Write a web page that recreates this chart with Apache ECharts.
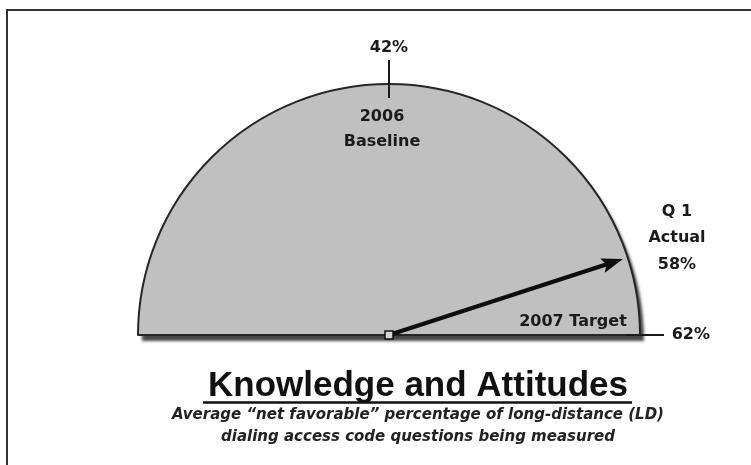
<!DOCTYPE html>
<html>
<head>
<meta charset="utf-8">
<script src="https://cdn.jsdelivr.net/npm/echarts@6/dist/echarts.min.js"></script>
<style>
  html, body { margin: 0; padding: 0; background: #ffffff; }
  #chart { width: 751px; height: 465px; }
</style>
</head>
<body>
<div id="chart"></div>
<script>
// Dial scale: left end, top (2006 baseline) and right end (2007 target)
const scaleMin = 22;
const baselineValue = 42;
const targetValue = 62;
// Needle reading
const actualValue = 58;
const actualName = 'Q 1\nActual';
// Marker captions
const baselineCaption = '2006\nBaseline';
const targetCaption = '2007 Target';
const chartTitle = 'Knowledge and Attitudes';
const chartSubtitle = 'Average \u201cnet favorable\u201d percentage of long-distance (LD)\ndialing access code questions being measured';

const CX = 389, CY = 335, R = 251;
const labelFont = 'DejaVu Sans';

const chart = echarts.init(document.getElementById('chart'), null, { renderer: 'canvas' });

// half-disc face: one visible half, one empty half
function faceData(style) {
  return [
    { value: 1, itemStyle: style },
    { value: 1, itemStyle: { color: 'rgba(0,0,0,0)', borderWidth: 0, shadowBlur: 0, shadowOffsetX: 0, shadowOffsetY: 0 } }
  ];
}
function faceSeries(style, z) {
  return {
    type: 'pie',
    silent: true,
    center: [CX, CY],
    radius: [0, R],
    startAngle: 180,
    clockwise: true,
    label: { show: false },
    labelLine: { show: false },
    emphasis: { disabled: true },
    z: z,
    data: faceData(style)
  };
}

const option = {
  backgroundColor: '#ffffff',
  animation: false,
  series: [
    // drop shadow under the dial face
    faceSeries({
      color: '#c0c0c0',
      borderWidth: 0,
      shadowColor: 'rgba(0,0,0,0.72)',
      shadowBlur: 3,
      shadowOffsetX: 4,
      shadowOffsetY: 6
    }, 1),
    // dial face with dark outline
    faceSeries({
      color: '#c0c0c0',
      borderColor: '#262626',
      borderWidth: 2
    }, 2),
    // Tick marks and labels for baseline and target
    {
      type: 'gauge',
      silent: true,
      center: [CX, CY],
      radius: R,
      startAngle: 90,
      endAngle: 0,
      min: baselineValue,
      max: targetValue,
      splitNumber: 1,
      z: 3,
      axisLine: { show: false, lineStyle: { width: 0 } },
      axisTick: { show: false },
      splitLine: {
        show: true,
        distance: -24,
        length: 38,
        lineStyle: { color: '#1a1a1a', width: 2 }
      },
      axisLabel: {
        show: true,
        distance: -84,
        formatter: function (v) {
          return v === baselineValue ? '{top|' + v + '%}' : '{side|' + v + '%}';
        },
        rich: {
          top: { lineHeight: 68, fontFamily: labelFont, fontWeight: 'bold', fontSize: 16, color: '#1a1a1a' },
          side: { lineHeight: 20, fontFamily: labelFont, fontWeight: 'bold', fontSize: 16, color: '#1a1a1a' }
        }
      },
      pointer: { show: false },
      anchor: { show: false },
      title: { show: false },
      detail: { show: false },
      data: [{ value: baselineValue }]
    },
    // Needle showing the actual reading
    {
      type: 'gauge',
      center: [CX, CY],
      radius: R,
      startAngle: 180,
      endAngle: 0,
      min: scaleMin,
      max: targetValue,
      z: 4,
      axisLine: { show: false, lineStyle: { width: 0 } },
      axisTick: { show: false },
      splitLine: { show: false },
      axisLabel: { show: false },
      pointer: {
        show: true,
        icon: 'path://M7,0 L14,22 L9,19 L9,252 L5,252 L5,19 L0,22 Z',
        length: 246,
        width: 15,
        offsetCenter: [0, 0],
        itemStyle: { color: '#0d0d0d' }
      },
      anchor: {
        show: true,
        showAbove: true,
        icon: 'rect',
        size: 8,
        itemStyle: { color: '#d6d6d6', borderColor: '#111', borderWidth: 1.5 }
      },
      title: {
        show: true,
        offsetCenter: [288, -110],
        fontFamily: labelFont,
        fontWeight: 'bold',
        fontSize: 16,
        lineHeight: 26,
        color: '#1a1a1a'
      },
      detail: {
        show: true,
        offsetCenter: [288, -70],
        formatter: '{value}%',
        fontFamily: labelFont,
        fontWeight: 'bold',
        fontSize: 16,
        color: '#1a1a1a',
        valueAnimation: false
      },
      data: [{ value: actualValue, name: actualName }]
    }
  ],
  graphic: [
    // page frame (top and left edges)
    {
      type: 'polyline',
      silent: true,
      shape: { points: [[7, 465], [7, 10], [751, 10]] },
      style: { stroke: '#333', lineWidth: 2, fill: null }
    },
    {
      type: 'text',
      silent: true,
      x: 382, y: 129.5,
      style: {
        text: baselineCaption,
        align: 'center', verticalAlign: 'middle',
        font: 'bold 16px "DejaVu Sans"',
        lineHeight: 25,
        fill: '#1a1a1a'
      },
      z: 5
    },
    {
      type: 'text',
      silent: true,
      x: 573, y: 322,
      style: {
        text: targetCaption,
        align: 'center', verticalAlign: 'middle',
        font: 'bold 16px "DejaVu Sans"',
        fill: '#1a1a1a'
      },
      z: 5
    },
    {
      type: 'text',
      silent: true,
      x: 418, y: 386,
      style: {
        text: chartTitle,
        align: 'center', verticalAlign: 'middle',
        font: 'bold 35px "Liberation Sans"',
        fill: '#111'
      }
    },
    {
      type: 'line',
      silent: true,
      shape: { x1: 203, y1: 402.5, x2: 632, y2: 402.5 },
      style: { stroke: '#111', lineWidth: 2.5 }
    },
    {
      type: 'text',
      silent: true,
      x: 418, y: 426,
      style: {
        text: chartSubtitle,
        align: 'center', verticalAlign: 'middle',
        font: 'italic bold 15px "DejaVu Sans"',
        lineHeight: 22,
        fill: '#222'
      }
    }
  ]
};

chart.setOption(option);
</script>
</body>
</html>
